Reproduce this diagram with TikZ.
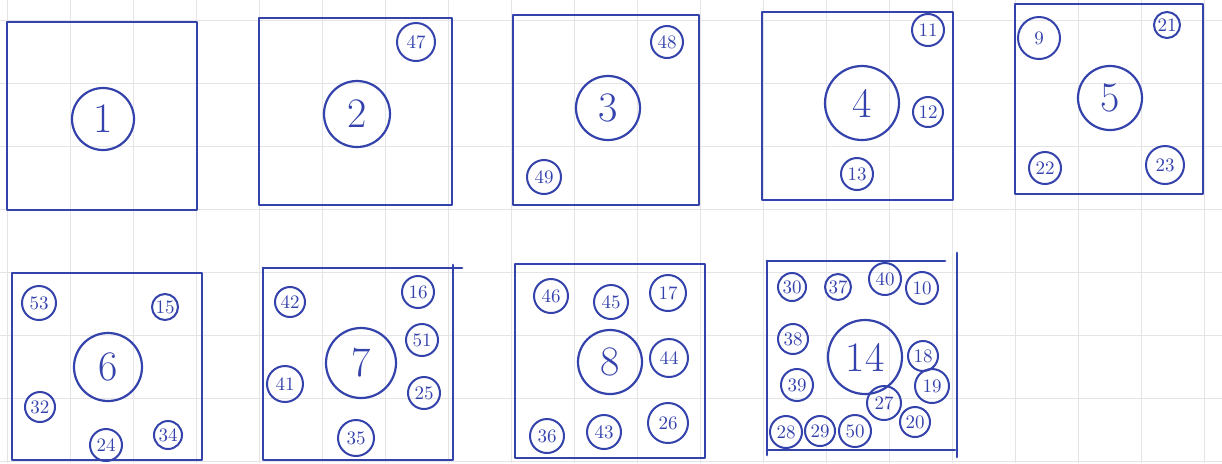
\documentclass[tikz,border=0pt]{standalone}
\definecolor{pen}{RGB}{52,66,172}
\definecolor{gridc}{RGB}{228,228,230}
\begin{document}
\begin{tikzpicture}[x=0.5pt,y=-0.5pt,
  box/.style={draw=pen,line width=1.4pt,line cap=round,line join=round},
  big/.style={circle,draw=pen,line width=1.1pt,inner sep=0pt,text=pen,font=\fontsize{21}{21}\selectfont},
  sm/.style={circle,draw=pen,line width=1pt,inner sep=0pt,text=pen,font=\fontsize{9.5}{9.5}\selectfont}]
\useasboundingbox (0,0) rectangle (1222,463);
\fill[white] (0,0) rectangle (1222,463);
% grid paper
\foreach \i in {0,...,19} \draw[gridc,line width=0.5pt] ({7+63.05*\i},0) -- ({7+63.05*\i},463);
\foreach \j in {0,...,7} \draw[gridc,line width=0.5pt] (0,{20+63*\j}) -- (1222,{20+63*\j});
% boxes
\draw[box] (7,22) rectangle (197,210);
\draw[box] (259,18) rectangle (452,205);
\draw[box] (513,15) rectangle (699,205);
\draw[box] (762,12) rectangle (953,200);
\draw[box] (1015,4) rectangle (1203,194);
\draw[box] (12,273) rectangle (202,460);
\draw[box] (263,268) -- (462,268);
\draw[box] (453,265) -- (453,460) -- (263,460) -- (263,268);
\draw[box] (515,264) rectangle (705,458);
\draw[box] (767,261) -- (945,261);
\draw[box] (767,261) -- (767,455);
\draw[box] (767,450) -- (955,450);
\draw[box] (957,253) -- (957,457);
% box 1
\node[big,minimum size=31pt] (n1) at (103,119) {1};
% box 2
\node[big,minimum size=33pt] (n2) at (357,114) {2};
\node[sm,minimum size=19pt] (n47) at (416,42) {47};
% box 3
\node[big,minimum size=32pt] (n3) at (608,108) {3};
\node[sm,minimum size=16pt] (n48) at (667,42) {48};
\node[sm,minimum size=17pt] (n49) at (544,177) {49};
% box 4
\node[big,minimum size=37pt] (n4) at (862,103) {4};
\node[sm,minimum size=16pt] (n11) at (928,30) {11};
\node[sm,minimum size=15pt] (n12) at (928,112) {12};
\node[sm,minimum size=16pt] (n13) at (857,174) {13};
% box 5
\node[big,minimum size=32pt] (n5) at (1110,98) {5};
\node[sm,minimum size=21pt] (n9) at (1039,38) {9};
\node[sm,minimum size=13pt] (n21) at (1167,25) {21};
\node[sm,minimum size=16pt] (n22) at (1045,168) {22};
\node[sm,minimum size=19pt] (n23) at (1165,165) {23};
% box 6
\node[big,minimum size=34pt] (n6) at (108,367) {6};
\node[sm,minimum size=17pt] (n53) at (39,303) {53};
\node[sm,minimum size=13pt] (n15) at (165,307) {15};
\node[sm,minimum size=15pt] (n32) at (40,407) {32};
\node[sm,minimum size=16pt] (n24) at (106,445) {24};
\node[sm,minimum size=14pt] (n34) at (168,435) {34};
% box 7
\node[big,minimum size=35pt] (n7) at (361,363) {7};
\node[sm,minimum size=15pt] (n42) at (290,302) {42};
\node[sm,minimum size=16pt] (n16) at (418,292) {16};
\node[sm,minimum size=16pt] (n51) at (422,340) {51};
\node[sm,minimum size=18pt] (n41) at (285,384) {41};
\node[sm,minimum size=16pt] (n25) at (424,393) {25};
\node[sm,minimum size=18pt] (n35) at (356,438) {35};
% box 8
\node[big,minimum size=32pt] (n8) at (610,362) {8};
\node[sm,minimum size=17pt] (n46) at (551,296) {46};
\node[sm,minimum size=17pt] (n45) at (611,302) {45};
\node[sm,minimum size=18pt] (n17) at (668,293) {17};
\node[sm,minimum size=19pt] (n44) at (669,358) {44};
\node[sm,minimum size=17pt] (n36) at (547,436) {36};
\node[sm,minimum size=17pt] (n43) at (604,432) {43};
\node[sm,minimum size=20pt] (n26) at (668,423) {26};
% box 14
\node[big,minimum size=37pt] (n14) at (865,357) {14};
\node[sm,minimum size=14pt] (n30) at (792,287) {30};
\node[sm,minimum size=13pt] (n37) at (838,287) {37};
\node[sm,minimum size=16pt] (n40) at (885,279) {40};
\node[sm,minimum size=16pt] (n10) at (922,288) {10};
\node[sm,minimum size=15pt] (n38) at (793,339) {38};
\node[sm,minimum size=15pt] (n18) at (923,356) {18};
\node[sm,minimum size=16pt] (n39) at (797,385) {39};
\node[sm,minimum size=17pt] (n19) at (932,386) {19};
\node[sm,minimum size=17pt] (n27) at (884,403) {27};
\node[sm,minimum size=15pt] (n20) at (915,422) {20};
\node[sm,minimum size=16pt] (n28) at (786,432) {28};
\node[sm,minimum size=15pt] (n29) at (820,431) {29};
\node[sm,minimum size=16pt] (n50) at (855,431) {50};
\end{tikzpicture}
\end{document}
